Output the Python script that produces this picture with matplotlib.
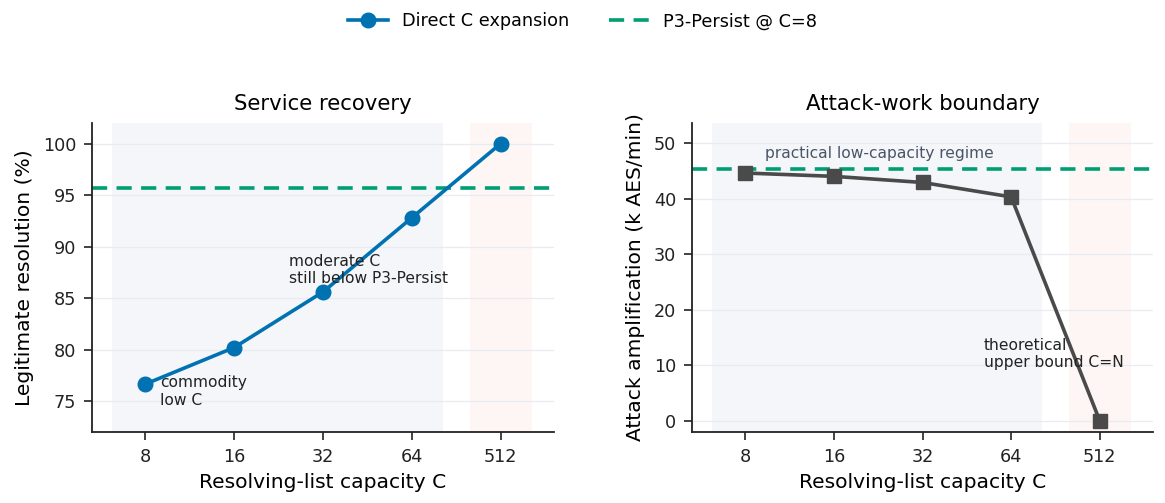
import matplotlib
matplotlib.use("Agg")
import matplotlib.pyplot as plt
import numpy as np

# ---- data ----
capacity_labels = ["8", "16", "32", "64", "512"]
legit_resolution = [76.65, 80.2, 85.6, 92.8, 100.0]
attack_amplification = [44.6, 44.0, 42.9, 40.3, 0.0]
p3_persist_resolution = 95.7
p3_persist_attack = 45.3

BLUE = "#0072B2"
GREEN = "#009E73"
GRAY = "#4a4a4a"
SPAN_BLUE = "#f4f6f9"
SPAN_RED = "#fdf6f5"
GRID = "#e9ebf2"

plt.rcParams["font.family"] = ["DejaVu Sans"]

fig = plt.figure(figsize=(11.65, 5.03), dpi=100)
ax1 = fig.add_axes([92 / 1165, 71 / 503, 462 / 1165, 309 / 503])
ax2 = fig.add_axes([692 / 1165, 71 / 503, 461 / 1165, 309 / 503])

x = np.arange(len(capacity_labels))


def style(ax):
    ax.axvspan(-0.37, 3.35, color=SPAN_BLUE, zorder=0, lw=0)
    ax.axvspan(3.65, 4.35, color=SPAN_RED, zorder=0, lw=0)
    ax.set_xlim(-0.6, 4.6)
    ax.set_xticks(x)
    ax.set_xticklabels(capacity_labels)
    ax.grid(axis="y", color=GRID, lw=0.9, zorder=0.5)
    ax.set_axisbelow(True)
    for s in ["top", "right"]:
        ax.spines[s].set_visible(False)
    for s in ["left", "bottom"]:
        ax.spines[s].set_linewidth(1.3)
        ax.spines[s].set_color("#222222")
    ax.tick_params(labelsize=12.7, width=1.2, length=6, pad=5.5,
                   colors="#222222")
    ax.set_xlabel("Resolving-list capacity C", fontsize=14.6, labelpad=5)


# ---- left panel ----
style(ax1)
l1, = ax1.plot(x, legit_resolution, color=BLUE, lw=2.6, marker="o", ms=10.5,
               label="Direct C expansion", zorder=3)
l2 = ax1.axhline(p3_persist_resolution, color=GREEN, lw=2.6, ls=(0, (4.2, 2.6)),
                 label="P3-Persist @ C=8", zorder=2)
ax1.set_ylim(72, 102)
ax1.set_yticks([75, 80, 85, 90, 95, 100])
ax1.set_ylabel("Legitimate resolution (%)", fontsize=14.6, labelpad=6)
ax1.set_title("Service recovery", fontsize=15.3, pad=9)
ax1.text(0.17, 77.5, "commodity\nlow C", fontsize=11.2, va="top",
         ha="left", color="#222222")
ax1.text(1.62, 87.7, "moderate C\nstill below P3-Persist", fontsize=11.2,
         va="center", ha="left", color="#222222")

# ---- right panel ----
style(ax2)
ax2.plot(x, attack_amplification, color=GRAY, lw=2.6, marker="s", ms=10,
         zorder=3)
ax2.axhline(p3_persist_attack, color=GREEN, lw=2.6, ls=(0, (4.2, 2.6)), zorder=2)
ax2.set_ylim(-2, 53.6)
ax2.set_yticks([0, 10, 20, 30, 40, 50])
ax2.set_ylabel("Attack amplification (k AES/min)", fontsize=14.6, labelpad=6)
ax2.set_title("Attack-work boundary", fontsize=15.3, pad=9)
ax2.text(0.22, 48.2, "practical low-capacity regime", fontsize=11.2,
         va="center", ha="left", color="#4a5568")
ax2.text(2.69, 12.05, "theoretical\nupper bound C=N", fontsize=11.2,
         va="center", ha="left", color="#222222")

fig.legend(handles=[l1, l2], loc="upper center", bbox_to_anchor=(0.5, 1.0),
           ncol=2, frameon=False, fontsize=12.7, handlelength=2.3,
           columnspacing=2.2, borderaxespad=0.3)

fig.savefig("out.png", dpi=100)
